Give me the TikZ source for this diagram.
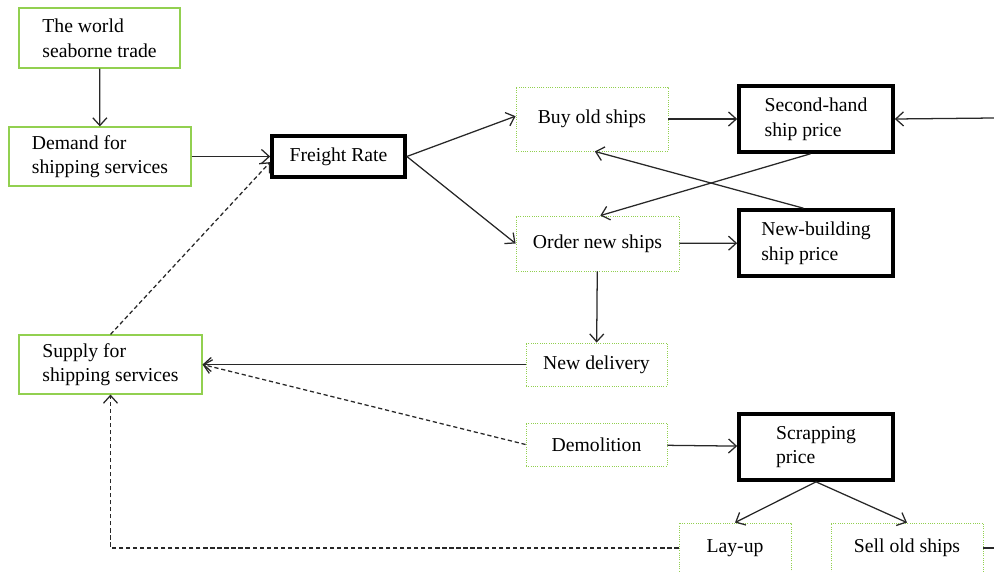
\documentclass[tikz,border=0pt]{standalone}
\usepackage{fontspec}
\setmainfont{Liberation Serif}
\usepackage{tikz}
\usetikzlibrary{arrows.meta,calc}
\definecolor{boxgreen}{RGB}{146,208,80}
\definecolor{linegray}{RGB}{40,40,40}
\newcommand{\pxlen}{0.025cm}
\tikzset{
  greenbox/.style={draw=boxgreen,line width=0.8pt,align=left,inner sep=0pt},
  dotbox/.style={draw=boxgreen,densely dotted,line width=0.6pt,align=left,inner sep=0pt},
  pricebox/.style={draw=black,line width=2.6pt,align=left,inner sep=0pt},
  link/.style={->,draw=linegray,line width=0.9pt},
  dashlink/.style={->,draw=linegray,line width=0.9pt,dash pattern=on 3pt off 2pt}}

\begin{document}
\begin{tikzpicture}[x=0.025cm,y=-0.025cm,
  font=\fontsize{14}{17.5}\selectfont,
  >={Straight Barb[length=5.5pt,width=10pt]}]
\useasboundingbox (0,0) rectangle (994,572);

\node[greenbox,minimum width=161*\pxlen,minimum height=60*\pxlen] (trade) at (99.5,38) {The world\\seaborne trade};
\node[greenbox,minimum width=182*\pxlen,minimum height=59*\pxlen] (demand) at (100,156.5) {Demand for\\shipping services};
\node[pricebox,minimum width=133*\pxlen,minimum height=41*\pxlen] (freight) at (338.5,156.5) {Freight Rate};
\node[dotbox,minimum width=152*\pxlen,minimum height=64*\pxlen] (buy) at (592,119) {Buy old ships};
\node[pricebox,minimum width=154*\pxlen,minimum height=66*\pxlen] (second) at (816,119) {Second-hand\\ship price};
\node[dotbox,minimum width=163*\pxlen,minimum height=55*\pxlen] (order) at (597.5,243.5) {Order new ships};
\node[pricebox,minimum width=154*\pxlen,minimum height=66*\pxlen] (newbuild) at (816,243) {New-building\\ship price};
\node[greenbox,minimum width=183*\pxlen,minimum height=59*\pxlen] (supply) at (110.5,364.5) {Supply for\\shipping services};
\node[dotbox,minimum width=141*\pxlen,minimum height=43*\pxlen] (delivery) at (596.5,364.5) {New delivery};
\node[dotbox,minimum width=141*\pxlen,minimum height=43*\pxlen] (demolition) at (596.5,444.5) {Demolition};
\node[pricebox,minimum width=154*\pxlen,minimum height=66*\pxlen] (scrap) at (816,447) {Scrapping\\price};
\node[dotbox,minimum width=112*\pxlen,minimum height=50*\pxlen] (layup) at (735,548) {Lay-up};
\node[dotbox,minimum width=152*\pxlen,minimum height=50*\pxlen] (sell) at (907,548) {Sell old ships};

\coordinate (inflow) at (994,118);
\coordinate (outflow) at (994,548);

\draw[link] (trade) -- (demand);
\draw[link] (demand) -- (freight);
\draw[link] (freight.east) -- ([yshift=2pt]buy.west);
\draw[link] (freight.east) -- (order.west);
\draw[link] (buy) -- (second);
\draw[link] (inflow) -- (second.east);
\draw[link] ([xshift=-4pt]second.south) -- ([xshift=2pt]order.north);
\draw[link] ([xshift=-9pt]newbuild.north) -- ([xshift=2pt]buy.south);
\draw[link] (order) -- (newbuild);
\draw[link] (order) -- (delivery);
\draw[link] (delivery.west) -- (supply.east);
\draw[dashlink] (demolition.west) -- (supply.east);
\draw[link] (demolition) -- (scrap);
\draw[link] (scrap.south) -- (layup.north);
\draw[link] (scrap.south) -- (sell.north);
\draw[dashlink] (layup.west) -| (supply.south);
\draw[draw=linegray,line width=0.9pt] (sell.east) -- (outflow);
\draw[dashlink] (supply.north) -- ([yshift=-4pt]freight.west);
\end{tikzpicture}
\end{document}
